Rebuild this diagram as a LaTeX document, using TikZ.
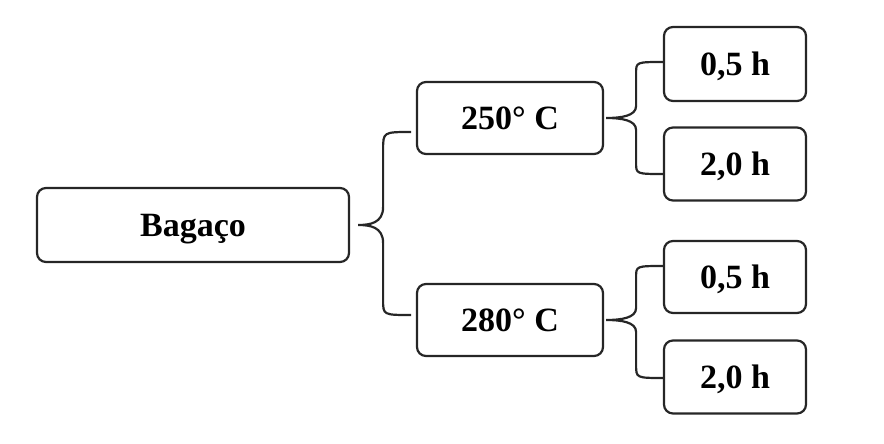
\documentclass[tikz,border=0pt]{standalone}
\usepackage{fontspec}
\setmainfont{Liberation Serif}
\usetikzlibrary{calc}
\begin{document}
\begin{tikzpicture}[x=1pt,y=-1pt,
  box/.style={draw=black!85,line width=2.2pt,rounded corners=9pt,inner sep=0pt,
    font=\fontsize{34}{40}\selectfont\bfseries,align=center,
    text height=22.5pt,text depth=0pt},
  brace/.style={draw=black!85,line width=2.2pt}]
\useasboundingbox (0,0) rectangle (884,444);
\node[box,minimum width=312pt,minimum height=74pt] (bag) at (193,225) {Bagaço};
\node[box,minimum width=186pt,minimum height=72pt] (t250) at (510,118) {250° C};
\node[box,minimum width=186pt,minimum height=72pt] (t280) at (510,320) {280° C};
\node[box,minimum width=142pt,minimum height=74pt] (a1) at (735,64) {0,5 h};
\node[box,minimum width=142pt,minimum height=73pt] (a2) at (735,164) {2,0 h};
\node[box,minimum width=142pt,minimum height=72pt] (b1) at (735,277) {0,5 h};
\node[box,minimum width=142pt,minimum height=73pt] (b2) at (735,377) {2,0 h};
% main brace
\coordinate (m0) at ($(bag.east)+(8,0)$);
\draw[brace] ($(m0)+(53,-93)$) .. controls ($(m0)+(25,-93)$) .. ($(m0)+(25,-75)$)
  -- ($(m0)+(25,-18)$) .. controls ($(m0)+(25,-2)$) and ($(m0)+(12,0)$) .. (m0)
  .. controls ($(m0)+(12,0)$) and ($(m0)+(25,2)$) .. ($(m0)+(25,18)$)
  -- ($(m0)+(25,75)$) .. controls ($(m0)+(25,90)$) .. ($(m0)+(53,90)$);
% upper small brace
\coordinate (u0) at ($(t250.east)+(2,0)$);
\draw[brace] ($(u0)+(58,-56)$) .. controls ($(u0)+(30,-56)$) .. ($(u0)+(30,-45)$)
  -- ($(u0)+(30,-12)$) .. controls ($(u0)+(30,-2)$) and ($(u0)+(15,0)$) .. (u0)
  .. controls ($(u0)+(15,0)$) and ($(u0)+(30,2)$) .. ($(u0)+(30,12)$)
  -- ($(u0)+(30,45)$) .. controls ($(u0)+(30,56)$) .. ($(u0)+(58,56)$);
% lower small brace
\coordinate (l0) at ($(t280.east)+(2,0)$);
\draw[brace] ($(l0)+(58,-54)$) .. controls ($(l0)+(30,-54)$) .. ($(l0)+(30,-43)$)
  -- ($(l0)+(30,-12)$) .. controls ($(l0)+(30,-2)$) and ($(l0)+(15,0)$) .. (l0)
  .. controls ($(l0)+(15,0)$) and ($(l0)+(30,2)$) .. ($(l0)+(30,12)$)
  -- ($(l0)+(30,45)$) .. controls ($(l0)+(30,58)$) .. ($(l0)+(58,58)$);
\end{tikzpicture}
\end{document}
